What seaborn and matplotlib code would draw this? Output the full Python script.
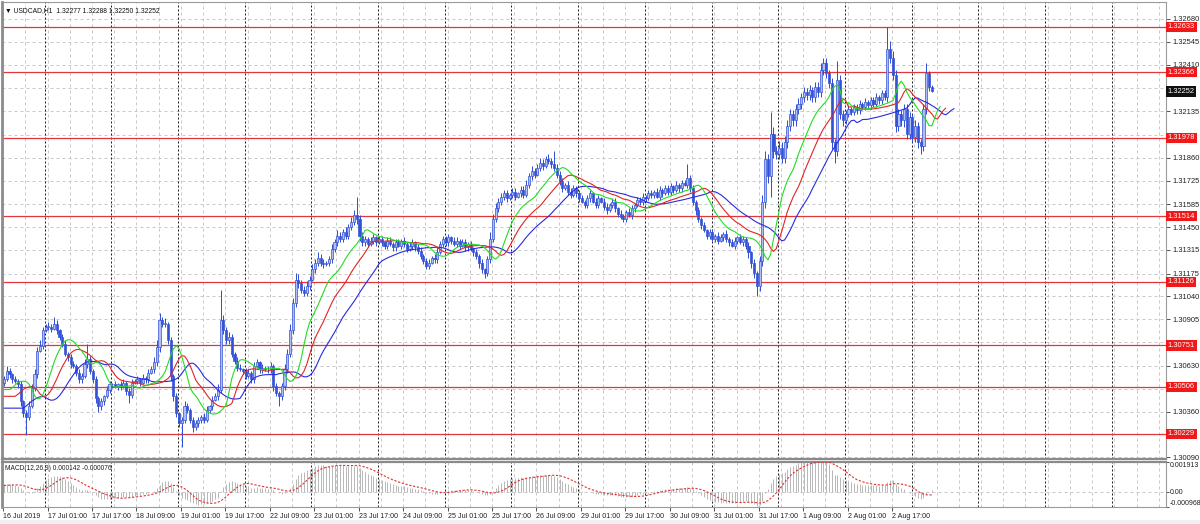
import numpy as np
import pandas as pd
import matplotlib
matplotlib.use("Agg")
import matplotlib.pyplot as plt
import seaborn as sns

# ---------------- data (prices in pips above 1.3000) ----------------
BASE = 1.3000
PIP = 0.0001
FIRST_OPEN = 53
CLOSE_PIPS = [
    55, 60, 58, 55, 54, 52, 42, 35, 33, 39,
    50, 58, 72, 75, 84, 86, 86, 85, 88, 84,
    80, 76, 70, 68, 64, 63, 59, 55, 57, 64,
    67, 60, 55, 44, 39, 42, 45, 49, 52, 52,
    51, 52, 51, 53, 48, 46, 53, 54, 55, 53,
    56, 55, 59, 61, 65, 74, 90, 88, 88, 78,
    57, 45, 35, 29, 31, 39, 37, 31, 27, 29,
    31, 33, 31, 37, 39, 43, 45, 49, 90, 84,
    78, 80, 70, 66, 62, 61, 60, 57, 59, 55,
    63, 65, 61, 62, 61, 61, 63, 51, 47, 45,
    51, 61, 70, 84, 100, 114, 112, 108, 106, 110,
    114, 120, 124, 127, 124, 123, 124, 126, 132, 136,
    140, 138, 142, 140, 145, 148, 152, 150, 140, 136,
    138, 135, 137, 139, 136, 138, 136, 134, 137, 135,
    133, 136, 134, 137, 135, 132, 134, 136, 133, 131,
    128, 125, 122, 124, 127, 126, 130, 135, 138, 136,
    139, 137, 135, 137, 134, 136, 133, 135, 132, 130,
    128, 124, 120, 118, 126, 138, 150, 156, 160, 163,
    165, 162, 164, 166, 163, 165, 167, 164, 170, 175,
    178, 176, 180, 183, 181, 185, 184, 182, 180, 176,
    172, 168, 170, 166, 164, 168, 165, 162, 160, 158,
    162, 165, 160, 158, 162, 160, 157, 155, 158, 160,
    156, 153, 151, 150, 154, 152, 156, 158, 161, 160,
    163, 162, 165, 164, 166, 163, 167, 165, 168, 166,
    169, 167, 170, 168, 171, 170, 174, 168, 160, 155,
    150, 146, 143, 140, 142, 138, 140, 137, 139, 141,
    138, 136, 134, 137, 139, 136, 138, 134, 130, 124,
    118, 110, 125, 160, 185, 175, 200, 190, 188, 192,
    186, 195, 205, 212, 208, 215, 218, 222, 225, 223,
    226, 222, 228, 225, 238, 242, 236, 230, 195, 190,
    232, 212, 208, 212, 215, 213, 216, 214, 218, 216,
    219, 217, 220, 218, 222, 220, 224, 222, 250, 245,
    235, 205, 212, 208, 215, 200, 210, 198, 205, 195,
    193, 215, 236, 227.7, 225.2,
]
UPPER_WICK = [
    2, 3, 2, 1, 2, 1, 2, 1, 2, 3,
    2, 3, 2, 3, 2, 2, 3, 2, 4, 2,
    1, 2, 2, 1, 2, 2, 1, 2, 2, 3,
    9, 2, 1, 2, 1, 2, 1, 2, 2, 1,
    2, 1, 2, 2, 1, 2, 2, 1, 2, 1,
    2, 1, 2, 2, 3, 4, 4, 2, 3, 1,
    2, 1, 2, 1, 2, 3, 2, 1, 2, 2,
    2, 1, 2, 2, 1, 2, 2, 3, 18, 3,
    2, 3, 2, 1, 2, 2, 1, 2, 2, 1,
    2, 2, 1, 2, 1, 2, 2, 1, 2, 1,
    2, 3, 3, 4, 3, 4, 3, 2, 2, 3,
    2, 3, 2, 3, 2, 2, 1, 2, 3, 2,
    3, 2, 2, 3, 2, 3, 3, 11, 2, 2,
    2, 1, 2, 2, 1, 2, 2, 1, 2, 2,
    1, 2, 2, 1, 2, 1, 2, 2, 1, 2,
    2, 1, 2, 2, 1, 2, 3, 2, 2, 2,
    2, 1, 2, 2, 1, 2, 2, 1, 2, 1,
    2, 1, 2, 1, 2, 4, 3, 3, 2, 2,
    2, 2, 1, 2, 2, 1, 2, 2, 3, 2,
    3, 2, 2, 3, 2, 2, 3, 2, 8, 2,
    2, 2, 1, 2, 2, 2, 1, 2, 2, 1,
    2, 2, 1, 2, 2, 1, 2, 2, 1, 2,
    2, 1, 2, 2, 1, 2, 2, 1, 2, 2,
    2, 1, 2, 2, 1, 2, 2, 1, 2, 2,
    2, 1, 2, 1, 2, 2, 8, 2, 2, 1,
    2, 1, 2, 1, 2, 2, 1, 2, 2, 1,
    2, 1, 2, 2, 1, 2, 2, 1, 2, 1,
    2, 1, 3, 4, 5, 3, 13, 4, 3, 4,
    3, 4, 3, 3, 2, 3, 3, 2, 3, 2,
    3, 2, 3, 3, 4, 3, 3, 2, 3, 2,
    11, 3, 2, 2, 2, 1, 2, 2, 2, 1,
    2, 1, 2, 2, 2, 1, 2, 2, 13, 5,
    4, 3, 3, 2, 3, 3, 3, 2, 3, 2,
    2, 3, 6, 1, 1.1,
]
LOWER_WICK = [
    2, 1, 2, 2, 1, 2, 3, 2, 11, 2,
    1, 2, 2, 1, 2, 1, 2, 2, 1, 2,
    2, 2, 1, 2, 2, 1, 2, 2, 2, 1,
    2, 2, 2, 3, 3, 2, 2, 1, 2, 2,
    1, 2, 2, 1, 2, 5, 2, 1, 2, 2,
    1, 2, 2, 1, 2, 2, 3, 2, 2, 2,
    3, 3, 2, 2, 14, 2, 2, 2, 3, 2,
    2, 2, 2, 1, 2, 2, 1, 2, 2, 2,
    2, 2, 2, 2, 2, 1, 2, 2, 1, 2,
    2, 1, 2, 2, 1, 2, 2, 3, 2, 6,
    2, 2, 2, 2, 2, 2, 3, 2, 2, 2,
    2, 1, 2, 2, 2, 2, 1, 2, 2, 2,
    2, 2, 2, 2, 2, 2, 2, 3, 3, 2,
    2, 2, 1, 2, 2, 1, 2, 2, 2, 1,
    2, 2, 1, 2, 2, 2, 1, 2, 2, 2,
    2, 2, 2, 2, 1, 2, 2, 1, 2, 2,
    2, 2, 1, 2, 2, 1, 2, 2, 1, 2,
    2, 3, 2, 3, 2, 2, 2, 2, 2, 2,
    2, 2, 1, 2, 2, 1, 2, 2, 1, 2,
    2, 2, 1, 2, 2, 1, 2, 2, 2, 2,
    2, 2, 1, 2, 2, 1, 2, 2, 1, 2,
    2, 2, 1, 2, 2, 1, 2, 2, 1, 2,
    2, 2, 1, 2, 2, 1, 2, 2, 1, 2,
    2, 2, 1, 2, 2, 1, 2, 2, 1, 2,
    2, 2, 1, 2, 2, 1, 2, 2, 2, 3,
    2, 2, 1, 2, 2, 1, 2, 2, 1, 2,
    2, 2, 1, 2, 2, 1, 2, 2, 3, 3,
    3, 6, 3, 3, 4, 4, 12, 4, 3, 3,
    3, 3, 3, 3, 3, 3, 3, 3, 3, 3,
    3, 3, 3, 3, 3, 3, 3, 3, 4, 7,
    3, 3, 3, 2, 2, 2, 2, 2, 2, 2,
    2, 2, 2, 2, 2, 2, 2, 2, 3, 3,
    3, 4, 3, 3, 4, 3, 3, 3, 3, 3,
    5, 3, 3, 2, 0.2,
]

# indicator start values read at the left edge of the chart (pips / price units)
LIPS_START, TEETH_START, JAW_START = 49, 45, 38
EMA12_START, EMA26_START, SIGNAL_START = 52, 47, 0.0004

LEVELS = [1.32633, 1.32366, 1.31978, 1.31514, 1.31126, 1.30751, 1.30506, 1.30229]
YTICK_LABELS = [1.32680, 1.32545, 1.32410, 1.32135, 1.31860, 1.31725, 1.31585, 1.31450,
                1.31315, 1.31175, 1.31040, 1.30905, 1.30630, 1.30360, 1.30090]
HIDDEN_GRID = [1.32270, 1.31995, 1.30770, 1.30495, 1.30225]
DATE_LABELS = ["16 Jul 2019", "17 Jul 01:00", "17 Jul 17:00", "18 Jul 09:00", "19 Jul 01:00",
               "19 Jul 17:00", "22 Jul 09:00", "23 Jul 01:00", "23 Jul 17:00", "24 Jul 09:00",
               "25 Jul 01:00", "25 Jul 17:00", "26 Jul 09:00", "29 Jul 01:00", "29 Jul 17:00",
               "30 Jul 09:00", "31 Jul 01:00", "31 Jul 17:00", "1 Aug 09:00", "2 Aug 01:00",
               "2 Aug 17:00"]
SYMBOL = "USDCAD,H1"
MACD_TEXT = "MACD(12,26,9) 0.000142 -0.000076"
MACD_TICKS = [0.001913, 0.0, -0.000968]

# ---------------- derived series ----------------
c_p = np.array(CLOSE_PIPS, dtype=float)
o_p = np.r_[FIRST_OPEN, c_p[:-1]]
h_p = np.maximum(o_p, c_p) + np.array(UPPER_WICK, dtype=float)
l_p = np.minimum(o_p, c_p) - np.array(LOWER_WICK, dtype=float)
N = len(c_p)
idx = np.arange(N)
O = BASE + o_p * PIP
C = BASE + c_p * PIP
H = BASE + h_p * PIP
L = BASE + l_p * PIP
df = pd.DataFrame({"bar": idx, "open": O, "high": H, "low": L, "close": C})


def smma(vals, n, start):
    s = start
    out = []
    for v in vals:
        s = (s * (n - 1) + v) / n
        out.append(s)
    return np.array(out)


median = (H + L) / 2
alligator = []
for name, n, shift, start in [("jaw", 13, 8, JAW_START), ("teeth", 8, 5, TEETH_START),
                              ("lips", 5, 3, LIPS_START)]:
    vals = smma(median, n, BASE + start * PIP)
    xs = np.r_[np.arange(shift), idx + shift]
    ys = np.r_[np.full(shift, BASE + start * PIP), vals]
    alligator.append(pd.DataFrame({"bar": xs, "value": ys, "line": name}))
alli_df = pd.concat(alligator, ignore_index=True)


def ema(vals, n, start):
    a = 2.0 / (n + 1)
    s = start
    out = []
    for v in vals:
        s = s + a * (v - s)
        out.append(s)
    return np.array(out)


macd = ema(C, 12, BASE + EMA12_START * PIP) - ema(C, 26, BASE + EMA26_START * PIP)
signal = pd.Series(np.r_[np.full(8, SIGNAL_START), macd]).rolling(9).mean().to_numpy()[8:]
macd_df = pd.DataFrame({"bar": idx, "macd": macd, "signal": signal})

# ---------------- figure ----------------
sns.set_style("white")
plt.rcParams["font.family"] = ["Liberation Sans", "DejaVu Sans"]
W, Hpx = 1200, 524
fig = plt.figure(figsize=(W / 100, Hpx / 100), dpi=100)
fig.patch.set_facecolor("white")


def frac_box(x0, y0, x1, y1):
    return [x0 / W, 1 - y1 / Hpx, (x1 - x0) / W, (y1 - y0) / Hpx]


ax = fig.add_axes(frac_box(2, 2, 1166, 459))
mx = fig.add_axes(frac_box(2, 462, 1166, 507), sharex=ax)
XMIN, XMAX = -0.7, 418.3
YMIN = BASE + 7.96 * PIP
YMAX = BASE + 278.0 * PIP
FS = 5.4

GRID_C = "#c9c9c9"
SEP_C = "#202020"
for a in (ax, mx):
    a.set_facecolor("white")
    for x in range(0, 420, 8):
        a.axvline(x - 0.3, color=GRID_C, lw=0.72, ls=(0, (3, 3)), zorder=0)
    for x in range(15, 420, 24):
        a.axvline(x - 0.3, color=SEP_C, lw=0.72, ls=(0, (2, 2)), zorder=0.5)

for y in YTICK_LABELS + HIDDEN_GRID:
    ax.axhline(y, color=GRID_C, lw=0.72, ls=(0, (3, 3)), zorder=0)

# support / resistance lines
for lv in LEVELS:
    ax.axhline(lv, color="#e0353a", lw=0.9, zorder=1)

# candles
up = df["close"] >= df["open"]
BLUE = "#3452d6"
ax.vlines(df["bar"], df["low"], df["high"], color=BLUE, lw=0.72, zorder=2)
body_h = np.maximum((df["close"] - df["open"]).abs(), 0.3 * PIP)
ax.bar(df["bar"][up], body_h[up], bottom=df[["open", "close"]].min(axis=1)[up],
       width=0.75, color="#aebdf2", edgecolor=BLUE, lw=0.5, zorder=3)
ax.bar(df["bar"][~up], body_h[~up], bottom=df[["open", "close"]].min(axis=1)[~up],
       width=0.75, color=BLUE, edgecolor=BLUE, lw=0.5, zorder=3)

# alligator lines
sns.lineplot(data=alli_df, x="bar", y="value", hue="line",
             palette={"jaw": "#2a2ae0", "teeth": "#e02525", "lips": "#22dd22"},
             linewidth=0.8, legend=False, ax=ax, zorder=4)

ax.set_xlim(XMIN, XMAX)
ax.set_ylim(YMIN, YMAX)
ax.set_xlabel("")
ax.set_ylabel("")
ax.yaxis.tick_right()
ax.set_yticks(YTICK_LABELS)
ax.set_yticklabels([f"{v:.5f}" for v in YTICK_LABELS])
ax.tick_params(axis="y", right=True, length=3, width=0.7, color="#505050",
               labelsize=FS, pad=1.5, labelcolor="#202020")
ax.tick_params(axis="x", bottom=False, labelbottom=False)

# level labels
for lv in LEVELS:
    ax.text(1.0015, lv, f"{lv:.5f}", transform=ax.get_yaxis_transform(), ha="left",
            va="center", fontsize=FS, color="white", clip_on=False, zorder=10,
            bbox=dict(boxstyle="square,pad=0.22", fc="#f01818", ec="none"))
last = df["close"].iloc[-1]
ax.text(1.0015, last, f"{last:.5f}", transform=ax.get_yaxis_transform(), ha="left",
        va="center", fontsize=FS, color="white", clip_on=False, zorder=10,
        bbox=dict(boxstyle="square,pad=0.22", fc="#101010", ec="none"))

# title
lo = df.iloc[-1]
ax.text(0.003, 0.988, "\u25BC " + SYMBOL + "  " +
        f"{lo['open']:.5f} {lo['high']:.5f} {lo['low']:.5f} {lo['close']:.5f}",
        transform=ax.transAxes, ha="left", va="top", fontsize=4.9, color="#101010")

for s in ["top", "right"]:
    ax.spines[s].set_color("#9a9a9a")
    ax.spines[s].set_linewidth(0.8)
ax.spines["left"].set_color("#8c8c8c")
ax.spines["left"].set_linewidth(2)
ax.spines["bottom"].set_color("#8a8a8a")
ax.spines["bottom"].set_linewidth(1.6)

# MACD panel
mx.axhline(0, color=GRID_C, lw=0.72, ls=(0, (3, 3)), zorder=0)
mx.vlines(macd_df["bar"], 0, macd_df["macd"], color="#b9b9b9", lw=0.72, zorder=2)
sns.lineplot(data=macd_df, x="bar", y="signal", color="#e03030", linewidth=0.8,
             linestyle=(0, (2, 1.5)), ax=mx, zorder=3)
mx.set_ylim(MACD_TICKS[2], MACD_TICKS[0])
mx.set_xlim(XMIN, XMAX)
mx.set_xlabel("")
mx.set_ylabel("")
mx.yaxis.tick_right()
mx.set_yticks(MACD_TICKS)
mx.set_yticklabels(["0.001913", "0.00", "-0.000968"])
labs = mx.get_yticklabels()
labs[0].set_va("top")
labs[2].set_va("bottom")
mx.tick_params(axis="y", right=True, length=2, width=0.7, color="#505050",
               labelsize=5.0, pad=1.0, labelcolor="#202020")
mx.set_xticks(np.arange(len(DATE_LABELS)) * 16 - 0.3)
mx.set_xticklabels(DATE_LABELS)
for t in mx.get_xticklabels():
    t.set_ha("left")
mx.tick_params(axis="x", bottom=True, length=3, width=0.7, color="#505050",
               labelsize=5.1, pad=1.5, labelcolor="#202020")
mx.text(0.003, 0.93, MACD_TEXT, transform=mx.transAxes, ha="left", va="top",
        fontsize=4.8, color="#202020")
for s in ["bottom", "right"]:
    mx.spines[s].set_color("#9a9a9a")
    mx.spines[s].set_linewidth(0.8)
mx.spines["top"].set_color("#8a8a8a")
mx.spines["top"].set_linewidth(1.6)
mx.spines["left"].set_color("#8c8c8c")
mx.spines["left"].set_linewidth(2)

fig.patches.append(plt.Rectangle((0, 0), 1, 4 / Hpx, transform=fig.transFigure,
                                 fc="#f0f0f0", ec="none", zorder=-1))

fig.savefig("out.png", dpi=100, facecolor=fig.get_facecolor())
